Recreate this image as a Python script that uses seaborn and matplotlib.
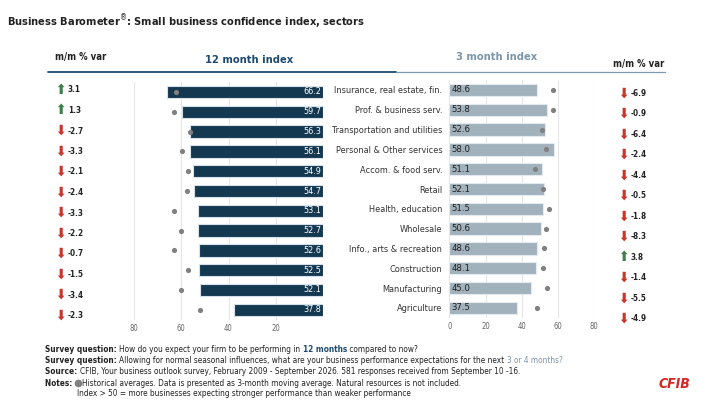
import numpy as np
import pandas as pd
import matplotlib
matplotlib.use("Agg")
import matplotlib.pyplot as plt
import seaborn as sns

sectors = ["Insurance, real estate, fin.", "Prof. & business serv.", "Transportation and utilities",
           "Personal & Other services", "Accom. & food serv.", "Retail", "Health, education",
           "Wholesale", "Info., arts & recreation", "Construction", "Manufacturing", "Agriculture"]
idx12 = [66.2, 59.7, 56.3, 56.1, 54.9, 54.7, 53.1, 52.7, 52.6, 52.5, 52.1, 37.8]
hist12 = [62.3, 63.2, 56.4, 59.5, 57.1, 57.6, 63.2, 60.2, 63.0, 57.1, 59.9, 52.0]
mm12 = [3.1, 1.3, -2.7, -3.3, -2.1, -2.4, -3.3, -2.2, -0.7, -1.5, -3.4, -2.3]
idx3 = [48.6, 53.8, 52.6, 58.0, 51.1, 52.1, 51.5, 50.6, 48.6, 48.1, 45.0, 37.5]
hist3 = [57.4, 57.1, 51.2, 53.2, 47.3, 51.9, 54.9, 53.6, 52.1, 51.6, 53.8, 48.6]
mm3 = [-6.9, -0.9, -6.4, -2.4, -4.4, -0.5, -1.8, -8.3, 3.8, -1.4, -5.5, -4.9]
ticks_left = [80, 60, 40, 20]
ticks_right = [0, 20, 40, 60, 80]

df = pd.DataFrame({"sector": sectors, "idx12": idx12, "hist12": hist12,
                   "idx3": idx3, "hist3": hist3})

sns.set_style("white")
plt.rcParams['font.family'] = ['DejaVu Sans']
plt.rcParams['font.stretch'] = 'condensed'

W, H = 702, 401
fig = plt.figure(figsize=(W / 100, H / 100), dpi=100)
renderer = fig.canvas.get_renderer()

def fx(px):
    return px / W

def fy(py):
    return 1 - py / H

def fit_size(text, target_px, weight="normal", base=10):
    t = fig.text(0, 0, text, fontsize=base, fontweight=weight)
    w = t.get_window_extent(renderer=renderer).width
    t.remove()
    return base * target_px / w

NAVY = "#0b3a5b"
LIGHT = "#9db3c1"
DOT = "#808080"
GREEN = "#3f7f4a"
RED = "#c8352b"
TXT = "#222222"

lab_size = fit_size("Transportation and utilities", 110)
val_size = fit_size("66.2", 18)
mm_size = fit_size("-2.7", 16, weight="bold")

rowh = 19.8
# left axes
top_l = 92 - rowh / 2
axL = fig.add_axes([fx(134), fy(top_l + 12 * rowh), fx(323 - 134), 12 * rowh / H])
sns.barplot(data=df, y="sector", x="idx12", ax=axL, color=NAVY, width=0.62,
            edgecolor="#d5e0e8", linewidth=0.8, orient="h")
sns.scatterplot(data=df, y="sector", x="hist12", ax=axL, color=DOT, s=14,
                edgecolor=DOT, linewidth=0, zorder=5)
axL.set_xlim(80, 0)
axL.set_ylim(11.5, -0.5)
axL.set_xticks(ticks_left)
axL.set_xticklabels([str(t) for t in ticks_left], fontsize=5.5, color="#666666")
axL.set_yticks([])
axL.set_xlabel(""); axL.set_ylabel("")
axL.grid(axis="x", color="#e6e6e6", linewidth=0.8)
axL.set_axisbelow(True)
for s in axL.spines.values():
    s.set_visible(False)
axL.tick_params(axis="x", length=0, pad=3)
for i, v in enumerate(idx12):
    axL.text(0.6, i, f"{v:.1f}", ha="right", va="center", color="white", fontsize=val_size)

# right axes
top_r = 90 - rowh / 2
axR = fig.add_axes([fx(449.3), fy(top_r + 12 * rowh), fx(594.3 - 449.3), 12 * rowh / H])
sns.barplot(data=df, y="sector", x="idx3", ax=axR, color=LIGHT, width=0.62,
            edgecolor="#e3ebf0", linewidth=0.8, orient="h")
sns.scatterplot(data=df, y="sector", x="hist3", ax=axR, color=DOT, s=14,
                edgecolor=DOT, linewidth=0, zorder=5)
axR.set_xlim(0, 80)
axR.set_ylim(11.5, -0.5)
axR.set_xticks(ticks_right)
axR.set_xticklabels([str(t) for t in ticks_right], fontsize=5.5, color="#666666")
axR.set_yticks(range(len(sectors)))
axR.set_yticklabels(sectors, fontsize=lab_size, color="#333333")
axR.set_xlabel(""); axR.set_ylabel("")
axR.grid(axis="x", color="#e6e6e6", linewidth=0.8)
axR.set_axisbelow(True)
for s in axR.spines.values():
    s.set_visible(False)
axR.tick_params(axis="x", length=0, pad=3)
axR.tick_params(axis="y", length=0, pad=5)
for i, v in enumerate(idx3):
    axR.text(1.2, i, f"{v:.1f}", ha="left", va="center", color="#1e1e1e", fontsize=val_size * 1.05)

# m/m columns
def mm_column(vals, x_arrow, top, spacing=20.5):
    ax = fig.add_axes([fx(x_arrow - 10), fy(top + 12 * spacing), fx(70), 12 * spacing / H])
    ax.set_xlim(0, 70)
    ax.set_ylim(11.5, -0.5)
    ax.axis("off")
    for i, v in enumerate(vals):
        up = v >= 0
        ax.text(10, i, "\u2B06" if up else "\u2B07", ha="center", va="center",
                color=GREEN if up else RED, fontsize=10, fontweight="bold")
        ax.text(18, i, f"{v:.1f}", ha="left", va="center", color=TXT, fontsize=mm_size,
                fontweight="bold")
    return ax

mm_column(mm12, 60, 90 - 10.25)
mm_column(mm3, 623, 93.3 - 10.25)

# Title and headers
title = "Business Barometer$^{\u00AE}$: Small business confidence index, sectors"
fig.text(fx(7), fy(22), title, fontsize=fit_size(title, 358, "semibold"),
         fontweight="semibold", color=TXT, va="center", ha="left")
mmhs = fit_size("m/m % var", 51, "semibold")
fig.text(fx(55), fy(57), "m/m % var", fontsize=mmhs, fontweight="semibold", color=TXT,
         va="center", ha="left")
fig.text(fx(249), fy(60), "12 month index", fontsize=fit_size("12 month index", 88, "semibold"),
         fontweight="semibold", color="#1d4a6e", va="center", ha="center")
fig.text(fx(497), fy(57), "3 month index", fontsize=fit_size("3 month index", 81, "semibold"),
         fontweight="semibold", color="#7a96aa", va="center", ha="center")
fig.text(fx(613), fy(64), "m/m % var", fontsize=mmhs, fontweight="semibold", color=TXT,
         va="center", ha="left")
fig.add_artist(plt.Line2D([fx(48), fx(396)], [fy(71.5), fy(71.5)], color="#1d4a6e", lw=1.3))
fig.add_artist(plt.Line2D([fx(396), fx(665)], [fy(72), fy(72)], color="#7f9bb0", lw=0.9))

# Footnotes
def rich(x_px, y_px, parts, size):
    x = fx(x_px)
    for text, weight, color in parts:
        t = fig.text(x, fy(y_px), text, fontsize=size, fontweight=weight, color=color,
                     va="center", ha="left")
        bb = t.get_window_extent(renderer=renderer)
        x += bb.width / W
    return x

line2 = [("Survey question: ", "bold", TXT),
         ("Allowing for normal seasonal influences, what are your business performance expectations for the next ", "normal", TXT),
         ("3 or 4 months?", "normal", "#7a96aa")]
# measure line 2 at base size to fit the reference width
tmp_end = rich(0, -100, line2, 10)
base_w = tmp_end * W
for t in fig.texts[-3:]:
    t.remove()
fs = 10 * (563 - 45) / base_w

rich(45, 349, [("Survey question: ", "bold", TXT),
               ("How do you expect your firm to be performing in ", "normal", TXT),
               ("12 months", "bold", "#1d4a6e"),
               (" compared to now?", "normal", TXT)], fs)
rich(45, 360.5, line2, fs)
rich(45, 372, [("Source: ", "bold", TXT),
               ("CFIB, Your business outlook survey, February 2009 - September 2026. 581 responses received from September 10 -16.", "normal", TXT)], fs)
xn = rich(45, 383, [("Notes: ", "bold", TXT)], fs)
fig.add_artist(plt.Line2D([xn + fx(3)], [fy(383)], marker="o", color=DOT, markersize=4.5, lw=0))
rich(xn * W + 7, 383, [("Historical averages. Data is presented as 3-month moving average. Natural resources is not included.", "normal", TXT)], fs)
rich(77, 394, [("Index > 50 = more businesses expecting stronger performance than weaker performance", "normal", TXT)], fs)

fig.text(fx(690), fy(384), "CFIB", fontsize=10, fontweight="bold", fontstyle="italic",
         color="#d7261e", ha="right", va="center")

fig.savefig("out.png", dpi=100, facecolor="white")
